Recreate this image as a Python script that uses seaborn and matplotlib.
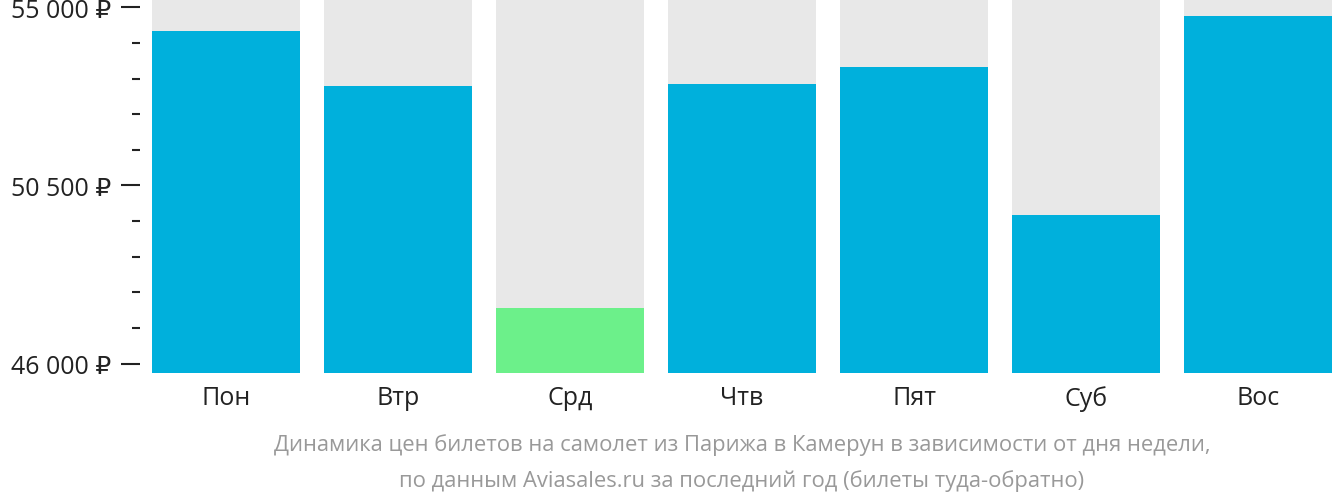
import matplotlib
matplotlib.use("Agg")
import matplotlib.pyplot as plt
import seaborn as sns
import pandas as pd
from matplotlib.ticker import FixedLocator, FuncFormatter

days = ["Пон", "Втр", "Срд", "Чтв", "Пят", "Суб", "Вос"]
prices = [54390, 53000, 47390, 53050, 53480, 49740, 54770]
bar_colors = ["#00b0dc", "#00b0dc", "#6cf08a", "#00b0dc", "#00b0dc", "#00b0dc", "#00b0dc"]
yticks = [46000, 50500, 55000]
minor_ticks = [46900, 47800, 48700, 49600, 51400, 52300, 53200, 54100]
caption = ("Динамика цен билетов на самолет из Парижа в Камерун в зависимости от дня недели,\n"
           "по данным Aviasales.ru за последний год (билеты туда-обратно)")

y_min, y_max = 45760, 55210

sns.set_theme(style="white")
plt.rcParams['font.family'] = ['Open Sans', 'DejaVu Sans']

fig = plt.figure(figsize=(13.32, 5.02), dpi=100)
ax = fig.add_axes([152/1332, 1 - 374/502, 1180/1332, 374/502])

df = pd.DataFrame({"day": days, "price": prices, "bg": [y_max] * len(days)})
sns.barplot(data=df, x="day", y="bg", color="#e8e8e8", width=0.86, ax=ax,
            saturation=1, linewidth=0)
sns.barplot(data=df, x="day", y="price", hue="day", palette=bar_colors, width=0.86,
            ax=ax, saturation=1, linewidth=0, legend=False)

ax.set_ylim(y_min, y_max)
ax.set_xlim(-0.43, len(days) - 0.57)
ax.spines['left'].set_position(('outward', 9))
ax.yaxis.set_major_locator(FixedLocator(yticks))
ax.yaxis.set_minor_locator(FixedLocator(minor_ticks))
ax.yaxis.set_major_formatter(FuncFormatter(lambda v, p: f"{int(v):,}".replace(",", " ") + " ₽"))
ax.tick_params(axis="y", which="major", length=14, width=1.5, color="#222222",
               labelsize=18, labelcolor="#222222", pad=6, left=True)
ax.tick_params(axis="y", which="minor", length=6, width=1.5, color="#222222", left=True)
ax.tick_params(axis="x", length=0, labelsize=18, labelcolor="#222222", pad=9)
ax.set_xlabel("")
ax.set_ylabel("")
for s in ax.spines.values():
    s.set_visible(False)

fig.text((152 + 1332) / 2 / 1332, 1 - 463/502, caption, ha="center", va="center",
         fontsize=15.8, color="#999999", linespacing=1.85)

fig.savefig("out.png", dpi=100)
